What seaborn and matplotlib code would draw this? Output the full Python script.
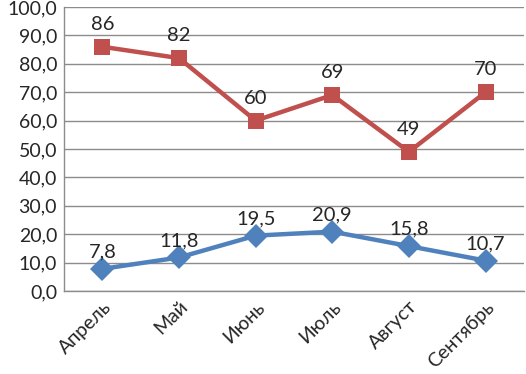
import matplotlib
matplotlib.use("Agg")
import pandas as pd
import matplotlib.pyplot as plt
import seaborn as sns

months = ["Апрель", "Май", "Июнь", "Июль", "Август", "Сентябрь"]
series_top = [86, 82, 60, 69, 49, 70]
series_bottom = [7.8, 11.8, 19.5, 20.9, 15.8, 10.7]
top_labels = ["86", "82", "60", "69", "49", "70"]
bottom_labels = ["7,8", "11,8", "19,5", "20,9", "15,8", "10,7"]

sns.set_style("white")
plt.rcParams["font.family"] = ["Lato", "DejaVu Sans"]

df = pd.DataFrame({
    "x": list(range(len(months))) * 2,
    "value": series_top + series_bottom,
    "series": ["top"] * len(months) + ["bottom"] * len(months),
})

fig = plt.figure(figsize=(5.26, 3.74), dpi=100)
ax = fig.add_axes([0.1217, 0.2219, 0.8743, 0.7594])

sns.lineplot(data=df, x="x", y="value", hue="series", style="series",
             palette={"top": "#C0504D", "bottom": "#4F81BD"},
             markers={"top": "s", "bottom": "D"}, dashes=False,
             linewidth=3.2, markersize=12, markeredgewidth=0,
             legend=False, ax=ax)

for i, (v, t) in enumerate(zip(series_top, top_labels)):
    ax.annotate(t, (i, v), xytext=(0, 10), textcoords="offset points",
                ha="center", va="bottom", fontsize=14.5)
for i, (v, t) in enumerate(zip(series_bottom, bottom_labels)):
    ax.annotate(t, (i, v), xytext=(0, 6), textcoords="offset points",
                ha="center", va="bottom", fontsize=14.5)

ax.set_xlim(-0.5, len(months) - 0.5)
ax.set_ylim(0, 100)
ax.set_yticks(range(0, 101, 10))
ax.set_yticklabels([f"{y:.1f}".replace(".", ",") for y in range(0, 101, 10)], fontsize=14)
ax.set_xticks(range(len(months)))
ax.set_xticklabels(months, rotation=45, ha="right", rotation_mode="anchor", fontsize=14)
ax.tick_params(length=0, pad=5)
ax.set_xlabel("")
ax.set_ylabel("")

ax.grid(axis="y", color="#8c8c8c", linewidth=1)
ax.set_axisbelow(True)
for s in ["top", "right"]:
    ax.spines[s].set_visible(False)
for s in ["left", "bottom"]:
    ax.spines[s].set_color("#8c8c8c")
    ax.spines[s].set_linewidth(1)

fig.savefig("out.png", dpi=100)
